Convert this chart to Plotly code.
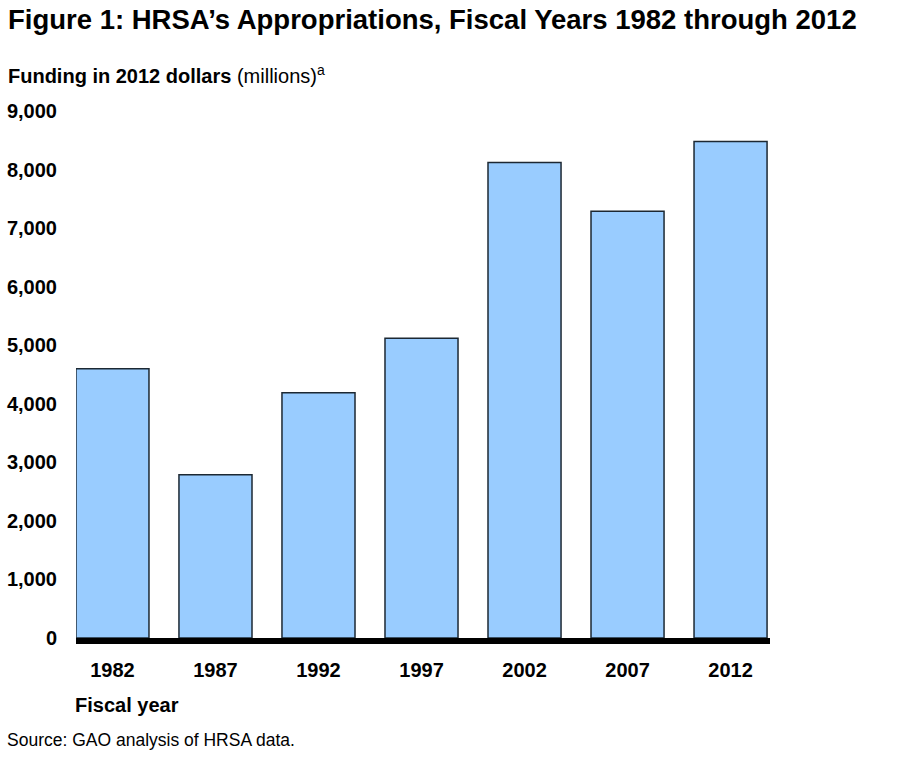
import plotly.graph_objects as go

years = ["1982", "1987", "1992", "1997", "2002", "2007", "2012"]
funding = [4600, 2790, 4190, 5120, 8120, 7290, 8480]
y_ticks = [0, 1000, 2000, 3000, 4000, 5000, 6000, 7000, 8000, 9000]
y_tick_labels = ["0", "1,000", "2,000", "3,000", "4,000", "5,000", "6,000", "7,000", "8,000", "9,000"]

W, H = 899, 758
L, R, T, B = 76, 899 - 770, 111, 758 - 638
pw = W - L - R

def px(x):
    return (x - L) / pw

def py(y):
    return 1 - (y - T) / (H - T - B)

FONT = "Liberation Sans, Arial, sans-serif"

fig = go.Figure(go.Bar(
    x=list(range(len(years))), y=funding,
    marker=dict(color="#99ccff", line=dict(color="#1c2833", width=1.5)),
    width=0.709,
))

fig.update_layout(
    width=W, height=H,
    margin=dict(l=L, r=R, t=T, b=B, pad=0, autoexpand=False),
    paper_bgcolor="white", plot_bgcolor="white",
    showlegend=False,
    font=dict(family=FONT, color="black"),
    xaxis=dict(
        range=[-0.354, 6.383], tickmode="array", automargin=False,
        tickvals=list(range(len(years))), ticktext=["<b>%s</b>" % y for y in years],
        tickfont=dict(size=20, family=FONT), showgrid=False, zeroline=False,
        showline=True, linecolor="black", linewidth=6, ticks="",
        ticklabelstandoff=9,
    ),
    yaxis=dict(
        range=[0, 9000], tickmode="array", tickvals=y_ticks, automargin=False,
        ticktext=["<b>%s</b>" % t for t in y_tick_labels],
        tickfont=dict(size=20, family=FONT), showgrid=False, zeroline=False,
        showline=False, ticks="", ticklabelstandoff=18,
    ),
    annotations=[
        dict(text="<b>Figure 1: HRSA’s Appropriations, Fiscal Years 1982 through 2012</b>",
             xref="paper", yref="paper", x=px(6), y=py(19), xanchor="left", yanchor="middle",
             showarrow=False, font=dict(size=27.5, family=FONT)),
        dict(text="<b>Funding in 2012 dollars</b> (millions)<sup>a</sup>",
             xref="paper", yref="paper", x=px(6), y=py(75), xanchor="left", yanchor="middle",
             showarrow=False, font=dict(size=20, family=FONT)),
        dict(text="<b>Fiscal year</b>",
             xref="paper", yref="paper", x=px(73), y=py(705), xanchor="left", yanchor="middle",
             showarrow=False, font=dict(size=20, family=FONT)),
        dict(text="Source: GAO analysis of HRSA data.",
             xref="paper", yref="paper", x=px(5), y=py(740), xanchor="left", yanchor="middle",
             showarrow=False, font=dict(size=17.5, family=FONT)),
    ],
)

fig.write_html("out.html")
